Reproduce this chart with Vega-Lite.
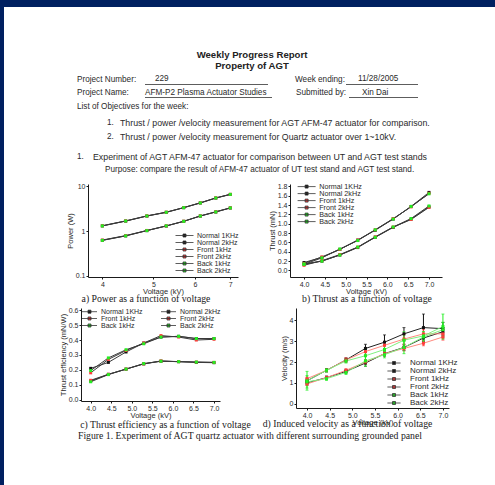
{
  "$schema": "https://vega.github.io/schema/vega-lite/v6.json",
  "background": "white",
  "padding": 0,
  "spacing": 0,
  "resolve": {"scale": {"color": "independent"}, "legend": {"color": "independent"}},
  "config": {
    "view": {"stroke": null},
    "font": "Liberation Sans",
    "axis": {"domainColor": "#1a1a1a", "tickColor": "#1a1a1a", "labelColor": "#2a2a2a", "titleColor": "#2a2a2a", "labelFont": "Liberation Sans", "titleFont": "Liberation Sans", "labelFontSize": 7, "titleFontSize": 7.5, "titleFontWeight": "normal", "tickSize": 2, "labelPadding": 1, "titlePadding": 1, "grid": false, "domainWidth": 1, "tickWidth": 1},
    "axisX": {"titlePadding": 0},
    "legend": {"labelFont": "Liberation Sans", "labelColor": "#2a2a2a", "padding": 0, "symbolSize": 36, "symbolStrokeColor": "#333", "symbolStrokeWidth": 0.8},
    "title": {"font": "Liberation Serif", "fontSize": 9.75, "fontWeight": "normal", "color": "#222", "orient": "bottom", "anchor": "middle", "offset": -1}
  },
  "hconcat": [
    {"width": 4, "height": 485, "view": {"fill": "#002060", "stroke": null}, "data": {"values": []}, "mark": "text", "encoding": {}},
    {
      "spacing": 0,
      "resolve": {"scale": {"color": "independent"}, "legend": {"color": "independent"}},
      "vconcat": [
        {"width": 491, "height": 7, "view": {"fill": "#002060", "stroke": null}, "data": {"values": []}, "mark": "text", "encoding": {}},
        {
          "width": 491, "height": 175,
          "data": {"values": [
            {"t": "h", "x": 252, "y": 55, "txt": "Weekly Progress Report"},
            {"t": "h", "x": 252, "y": 65.5, "txt": "Property of AGT"},
            {"t": "n", "x": 77, "y": 80, "txt": "Project Number:"},
            {"t": "n", "x": 155, "y": 79, "txt": "229"},
            {"t": "n", "x": 295, "y": 80, "txt": "Week ending:"},
            {"t": "n", "x": 358, "y": 79, "txt": "11/28/2005"},
            {"t": "n", "x": 77, "y": 93, "txt": "Project Name:"},
            {"t": "n", "x": 145, "y": 93, "txt": "AFM-P2 Plasma Actuator Studies"},
            {"t": "n", "x": 296, "y": 93, "txt": "Submitted by:"},
            {"t": "n", "x": 362, "y": 93, "txt": "Xin Dai"},
            {"t": "n", "x": 77, "y": 107, "txt": "List of Objectives for the week:"},
            {"t": "n", "x": 107, "y": 123, "txt": "1."},
            {"t": "w", "x": 120, "y": 123, "txt": "Thrust / power /velocity measurement for AGT AFM-47 actuator for comparison."},
            {"t": "n", "x": 107, "y": 137, "txt": "2."},
            {"t": "w", "x": 120, "y": 137, "txt": "Thrust / power /velocity measurement for Quartz actuator over 1~10kV."},
            {"t": "n", "x": 77, "y": 157, "txt": "1."},
            {"t": "w", "x": 93, "y": 157, "txt": "Experiment of AGT AFM-47 actuator for comparison between UT and AGT test stands"},
            {"t": "n", "x": 105, "y": 170, "txt": "Purpose: compare the result of AFM-47 actuator of UT test stand and AGT test stand."},
            {"t": "u", "x": 145, "x2": 268, "y": 84.5},
            {"t": "u", "x": 346, "x2": 418, "y": 84.5},
            {"t": "u", "x": 145, "x2": 272, "y": 97.5},
            {"t": "u", "x": 349, "x2": 418, "y": 97.5}
          ]},
          "encoding": {
            "x": {"field": "x", "type": "quantitative", "scale": {"domain": [4, 495], "nice": false, "zero": false}, "axis": null},
            "y": {"field": "y", "type": "quantitative", "scale": {"domain": [7, 182], "nice": false, "zero": false, "reverse": true}, "axis": null}
          },
          "layer": [
            {"transform": [{"filter": "datum.t == 'h'"}], "mark": {"type": "text", "align": "center", "baseline": "middle", "fontSize": 9.6, "fontWeight": "bold", "color": "#222"}, "encoding": {"text": {"field": "txt"}}},
            {"transform": [{"filter": "datum.t == 'n'"}], "mark": {"type": "text", "align": "left", "baseline": "middle", "fontSize": 8.2, "color": "#2a2a2a"}, "encoding": {"text": {"field": "txt"}}},
            {"transform": [{"filter": "datum.t == 'w'"}], "mark": {"type": "text", "align": "left", "baseline": "middle", "fontSize": 8.8, "color": "#2a2a2a"}, "encoding": {"text": {"field": "txt"}}},
            {"transform": [{"filter": "datum.t == 'u'"}], "mark": {"type": "rule", "color": "#333", "strokeWidth": 0.8}, "encoding": {"x2": {"field": "x2"}}}
          ]
        },
        {
          "spacing": 52,
          "bounds": "flush",
          "resolve": {"scale": {"color": "independent"}, "legend": {"color": "independent"}},
          "hconcat": [
            {"width": 32, "height": 122, "data": {"values": []}, "mark": "text", "encoding": {}},
            {
              "width": 150, "height": 93,
              "title": {"text": "a) Power as a function of voltage", "dx": -17},
              "data": {"values": [
                {"s": "Normal 1KHz", "v": 4.0, "y": 0.62}, {"s": "Normal 1KHz", "v": 4.43, "y": 0.78}, {"s": "Normal 1KHz", "v": 4.86, "y": 1.02}, {"s": "Normal 1KHz", "v": 5.29, "y": 1.29}, {"s": "Normal 1KHz", "v": 5.71, "y": 1.64}, {"s": "Normal 1KHz", "v": 6.14, "y": 2.15}, {"s": "Normal 1KHz", "v": 6.57, "y": 2.65}, {"s": "Normal 1KHz", "v": 7.0, "y": 3.25},
                {"s": "Normal 2kHz", "v": 4.0, "y": 1.3}, {"s": "Normal 2kHz", "v": 4.43, "y": 1.66}, {"s": "Normal 2kHz", "v": 4.86, "y": 2.15}, {"s": "Normal 2kHz", "v": 5.29, "y": 2.6}, {"s": "Normal 2kHz", "v": 5.71, "y": 3.3}, {"s": "Normal 2kHz", "v": 6.14, "y": 4.2}, {"s": "Normal 2kHz", "v": 6.57, "y": 5.4}, {"s": "Normal 2kHz", "v": 7.0, "y": 6.5},
                {"s": "Front 1kHz", "v": 4.0, "y": 0.63}, {"s": "Front 1kHz", "v": 4.43, "y": 0.79}, {"s": "Front 1kHz", "v": 4.86, "y": 1.03}, {"s": "Front 1kHz", "v": 5.29, "y": 1.3}, {"s": "Front 1kHz", "v": 5.71, "y": 1.65}, {"s": "Front 1kHz", "v": 6.14, "y": 2.17}, {"s": "Front 1kHz", "v": 6.57, "y": 2.68}, {"s": "Front 1kHz", "v": 7.0, "y": 3.28},
                {"s": "Front 2kHz", "v": 4.0, "y": 1.31}, {"s": "Front 2kHz", "v": 4.43, "y": 1.68}, {"s": "Front 2kHz", "v": 4.86, "y": 2.17}, {"s": "Front 2kHz", "v": 5.29, "y": 2.62}, {"s": "Front 2kHz", "v": 5.71, "y": 3.32}, {"s": "Front 2kHz", "v": 6.14, "y": 4.25}, {"s": "Front 2kHz", "v": 6.57, "y": 5.45}, {"s": "Front 2kHz", "v": 7.0, "y": 6.55},
                {"s": "Back 1kHz", "v": 4.0, "y": 0.62}, {"s": "Back 1kHz", "v": 4.43, "y": 0.78}, {"s": "Back 1kHz", "v": 4.86, "y": 1.02}, {"s": "Back 1kHz", "v": 5.29, "y": 1.3}, {"s": "Back 1kHz", "v": 5.71, "y": 1.64}, {"s": "Back 1kHz", "v": 6.14, "y": 2.16}, {"s": "Back 1kHz", "v": 6.57, "y": 2.66}, {"s": "Back 1kHz", "v": 7.0, "y": 3.26},
                {"s": "Back 2kHz", "v": 4.0, "y": 1.3}, {"s": "Back 2kHz", "v": 4.43, "y": 1.67}, {"s": "Back 2kHz", "v": 4.86, "y": 2.16}, {"s": "Back 2kHz", "v": 5.29, "y": 2.61}, {"s": "Back 2kHz", "v": 5.71, "y": 3.31}, {"s": "Back 2kHz", "v": 6.14, "y": 4.22}, {"s": "Back 2kHz", "v": 6.57, "y": 5.42}, {"s": "Back 2kHz", "v": 7.0, "y": 6.52}
              ]},
              "encoding": {
                "x": {"field": "v", "type": "quantitative", "scale": {"type": "log", "domain": [3.757, 7.24], "nice": false}, "axis": {"title": "Voltage (kV)", "values": [4, 5, 6, 7], "format": "d"}},
                "y": {"field": "y", "type": "quantitative", "scale": {"type": "log", "domain": [0.095, 11.1], "nice": false}, "axis": {"title": "Power (W)", "values": [0.1, 1, 10], "format": "~g"}}
              },
              "layer": [
                {"mark": {"type": "line", "color": "#3a3a3a", "strokeWidth": 1}, "encoding": {"detail": {"field": "s"}}},
                {"mark": {"type": "point", "shape": "square", "filled": true, "size": 9, "opacity": 1}, "encoding": {"color": {"field": "s", "type": "nominal", "scale": {"domain": ["Normal 1KHz", "Normal 2kHz", "Front 1kHz", "Front 2kHz", "Back 1kHz", "Back 2kHz"], "range": ["#111111", "#111111", "#ff3b3b", "#ff3b3b", "#22ee22", "#22ee22"]}, "legend": {"orient": "none", "legendX": 93, "legendY": 48, "title": null, "symbolType": "M-3,0H3M-0.5,-0.5H0.5V0.5H-0.5Z", "labelOffset": 9, "labelFontSize": 7, "rowPadding": -3}}}}
              ]
            },
            {
              "width": 152, "height": 93,
              "title": {"text": "b) Thrust as a function of voltage", "dx": 1},
              "data": {"values": [
                {"s": "Normal 1KHz", "v": 4.0, "y": 0.13}, {"s": "Normal 1KHz", "v": 4.43, "y": 0.2}, {"s": "Normal 1KHz", "v": 4.86, "y": 0.33}, {"s": "Normal 1KHz", "v": 5.29, "y": 0.49}, {"s": "Normal 1KHz", "v": 5.71, "y": 0.71}, {"s": "Normal 1KHz", "v": 6.14, "y": 0.92}, {"s": "Normal 1KHz", "v": 6.57, "y": 1.1}, {"s": "Normal 1KHz", "v": 7.0, "y": 1.36},
                {"s": "Normal 2kHz", "v": 4.0, "y": 0.17}, {"s": "Normal 2kHz", "v": 4.43, "y": 0.28}, {"s": "Normal 2kHz", "v": 4.86, "y": 0.45}, {"s": "Normal 2kHz", "v": 5.29, "y": 0.65}, {"s": "Normal 2kHz", "v": 5.71, "y": 0.86}, {"s": "Normal 2kHz", "v": 6.14, "y": 1.1}, {"s": "Normal 2kHz", "v": 6.57, "y": 1.37}, {"s": "Normal 2kHz", "v": 7.0, "y": 1.67},
                {"s": "Front 1kHz", "v": 4.0, "y": 0.11}, {"s": "Front 1kHz", "v": 4.43, "y": 0.21}, {"s": "Front 1kHz", "v": 4.86, "y": 0.34}, {"s": "Front 1kHz", "v": 5.29, "y": 0.5}, {"s": "Front 1kHz", "v": 5.71, "y": 0.72}, {"s": "Front 1kHz", "v": 6.14, "y": 0.93}, {"s": "Front 1kHz", "v": 6.57, "y": 1.09}, {"s": "Front 1kHz", "v": 7.0, "y": 1.35},
                {"s": "Front 2kHz", "v": 4.0, "y": 0.15}, {"s": "Front 2kHz", "v": 4.43, "y": 0.29}, {"s": "Front 2kHz", "v": 4.86, "y": 0.45}, {"s": "Front 2kHz", "v": 5.29, "y": 0.65}, {"s": "Front 2kHz", "v": 5.71, "y": 0.87}, {"s": "Front 2kHz", "v": 6.14, "y": 1.11}, {"s": "Front 2kHz", "v": 6.57, "y": 1.36}, {"s": "Front 2kHz", "v": 7.0, "y": 1.65},
                {"s": "Back 1kHz", "v": 4.0, "y": 0.14}, {"s": "Back 1kHz", "v": 4.43, "y": 0.2}, {"s": "Back 1kHz", "v": 4.86, "y": 0.33}, {"s": "Back 1kHz", "v": 5.29, "y": 0.5}, {"s": "Back 1kHz", "v": 5.71, "y": 0.71}, {"s": "Back 1kHz", "v": 6.14, "y": 0.93}, {"s": "Back 1kHz", "v": 6.57, "y": 1.11}, {"s": "Back 1kHz", "v": 7.0, "y": 1.38},
                {"s": "Back 2kHz", "v": 4.0, "y": 0.13}, {"s": "Back 2kHz", "v": 4.43, "y": 0.27}, {"s": "Back 2kHz", "v": 4.86, "y": 0.46}, {"s": "Back 2kHz", "v": 5.29, "y": 0.64}, {"s": "Back 2kHz", "v": 5.71, "y": 0.87}, {"s": "Back 2kHz", "v": 6.14, "y": 1.1}, {"s": "Back 2kHz", "v": 6.57, "y": 1.37}, {"s": "Back 2kHz", "v": 7.0, "y": 1.64}
              ]},
              "encoding": {
                "x": {"field": "v", "type": "quantitative", "scale": {"domain": [3.664, 7.312], "nice": false, "zero": false}, "axis": {"title": "Voltage (kV)", "values": [4, 4.5, 5, 5.5, 6, 6.5, 7], "format": ".1f"}},
                "y": {"field": "y", "type": "quantitative", "scale": {"domain": [-0.14, 1.85], "nice": false, "zero": false}, "axis": {"title": "Thrust (mN)", "values": [0, 0.2, 0.4, 0.6, 0.8, 1.0, 1.2, 1.4, 1.6, 1.8], "format": ".1f"}}
              },
              "layer": [
                {"mark": {"type": "line", "color": "#3a3a3a", "strokeWidth": 1}, "encoding": {"detail": {"field": "s"}}},
                {"mark": {"type": "point", "shape": "square", "filled": true, "size": 9, "opacity": 1}, "encoding": {"color": {"field": "s", "type": "nominal", "scale": {"domain": ["Normal 1KHz", "Normal 2kHz", "Front 1kHz", "Front 2kHz", "Back 1kHz", "Back 2kHz"], "range": ["#111111", "#111111", "#ff3b3b", "#ff3b3b", "#22ee22", "#22ee22"]}, "legend": {"orient": "none", "legendX": 13, "legendY": -1, "title": null, "symbolType": "M-3,0H3M-0.5,-0.5H0.5V0.5H-0.5Z", "labelOffset": 9, "labelFontSize": 7.2, "rowPadding": -3}}}}
              ]
            }
          ]
        },
        {
          "spacing": 76,
          "bounds": "flush",
          "resolve": {"scale": {"color": "independent"}, "legend": {"color": "independent"}},
          "hconcat": [
            {"width": 1, "height": 121, "data": {"values": []}, "mark": "text", "encoding": {}},
            {
              "width": 139, "height": 93,
              "title": {"text": "c) Thrust efficiency as a function of voltage", "dx": 15, "offset": 1.5},
              "data": {"values": [
                {"s": "Normal 1KHz", "v": 4.0, "y": 0.21}, {"s": "Normal 1KHz", "v": 4.43, "y": 0.25}, {"s": "Normal 1KHz", "v": 4.86, "y": 0.32}, {"s": "Normal 1KHz", "v": 5.29, "y": 0.38}, {"s": "Normal 1KHz", "v": 5.71, "y": 0.42}, {"s": "Normal 1KHz", "v": 6.14, "y": 0.425}, {"s": "Normal 1KHz", "v": 6.57, "y": 0.41}, {"s": "Normal 1KHz", "v": 7.0, "y": 0.41},
                {"s": "Normal 2kHz", "v": 4.0, "y": 0.125}, {"s": "Normal 2kHz", "v": 4.43, "y": 0.17}, {"s": "Normal 2kHz", "v": 4.86, "y": 0.205}, {"s": "Normal 2kHz", "v": 5.29, "y": 0.24}, {"s": "Normal 2kHz", "v": 5.71, "y": 0.258}, {"s": "Normal 2kHz", "v": 6.14, "y": 0.255}, {"s": "Normal 2kHz", "v": 6.57, "y": 0.25}, {"s": "Normal 2kHz", "v": 7.0, "y": 0.248},
                {"s": "Front 1kHz", "v": 4.0, "y": 0.18}, {"s": "Front 1kHz", "v": 4.43, "y": 0.27}, {"s": "Front 1kHz", "v": 4.86, "y": 0.33}, {"s": "Front 1kHz", "v": 5.29, "y": 0.38}, {"s": "Front 1kHz", "v": 5.71, "y": 0.43}, {"s": "Front 1kHz", "v": 6.14, "y": 0.42}, {"s": "Front 1kHz", "v": 6.57, "y": 0.4}, {"s": "Front 1kHz", "v": 7.0, "y": 0.405},
                {"s": "Front 2kHz", "v": 4.0, "y": 0.13}, {"s": "Front 2kHz", "v": 4.43, "y": 0.17}, {"s": "Front 2kHz", "v": 4.86, "y": 0.205}, {"s": "Front 2kHz", "v": 5.29, "y": 0.24}, {"s": "Front 2kHz", "v": 5.71, "y": 0.26}, {"s": "Front 2kHz", "v": 6.14, "y": 0.255}, {"s": "Front 2kHz", "v": 6.57, "y": 0.252}, {"s": "Front 2kHz", "v": 7.0, "y": 0.25},
                {"s": "Back 1kHz", "v": 4.0, "y": 0.195}, {"s": "Back 1kHz", "v": 4.43, "y": 0.28}, {"s": "Back 1kHz", "v": 4.86, "y": 0.335}, {"s": "Back 1kHz", "v": 5.29, "y": 0.375}, {"s": "Back 1kHz", "v": 5.71, "y": 0.42}, {"s": "Back 1kHz", "v": 6.14, "y": 0.425}, {"s": "Back 1kHz", "v": 6.57, "y": 0.41}, {"s": "Back 1kHz", "v": 7.0, "y": 0.41},
                {"s": "Back 2kHz", "v": 4.0, "y": 0.12}, {"s": "Back 2kHz", "v": 4.43, "y": 0.168}, {"s": "Back 2kHz", "v": 4.86, "y": 0.205}, {"s": "Back 2kHz", "v": 5.29, "y": 0.242}, {"s": "Back 2kHz", "v": 5.71, "y": 0.258}, {"s": "Back 2kHz", "v": 6.14, "y": 0.255}, {"s": "Back 2kHz", "v": 6.57, "y": 0.252}, {"s": "Back 2kHz", "v": 7.0, "y": 0.25}
              ]},
              "encoding": {
                "x": {"field": "v", "type": "quantitative", "scale": {"domain": [3.764, 7.146], "nice": false, "zero": false}, "axis": {"title": "Voltage (kV)", "values": [4, 4.5, 5, 5.5, 6, 6.5, 7], "format": ".1f"}},
                "y": {"field": "y", "type": "quantitative", "scale": {"domain": [-0.009, 0.615], "nice": false, "zero": false}, "axis": {"title": "Thrust efficiency (mN/W)", "values": [0, 0.1, 0.2, 0.3, 0.4, 0.5, 0.6], "format": ".1f"}}
              },
              "layer": [
                {"mark": {"type": "line", "color": "#3a3a3a", "strokeWidth": 1}, "encoding": {"detail": {"field": "s"}}},
                {"mark": {"type": "point", "shape": "square", "filled": true, "size": 9, "opacity": 1}, "encoding": {"color": {"field": "s", "type": "nominal", "scale": {"domain": ["Normal 1KHz", "Normal 2kHz", "Front 1kHz", "Front 2kHz", "Back 1kHz", "Back 2kHz"], "range": ["#111111", "#111111", "#ff3b3b", "#ff3b3b", "#22ee22", "#22ee22"]}, "legend": {"orient": "none", "legendX": 5, "legendY": 0, "title": null, "direction": "horizontal", "columns": 2, "columnPadding": 16, "symbolType": "M-2.5,0H2.5M-0.5,-0.5H0.5V0.5H-0.5Z", "labelOffset": 8, "labelFontSize": 7, "rowPadding": -1}}}}
              ]
            },
            {
              "width": 153, "height": 100,
              "title": {"text": "d) Induced velocity as a function of voltage", "dx": -25, "offset": -7},
              "data": {"values": [
                {"s": "Normal 1KHz", "v": 4.0, "y": 1.0, "e": 0.1}, {"s": "Normal 1KHz", "v": 4.43, "y": 1.25, "e": 0.08}, {"s": "Normal 1KHz", "v": 4.86, "y": 1.55, "e": 0.08}, {"s": "Normal 1KHz", "v": 5.29, "y": 1.95, "e": 0.15}, {"s": "Normal 1KHz", "v": 5.71, "y": 2.4, "e": 0.12}, {"s": "Normal 1KHz", "v": 6.14, "y": 2.7, "e": 0.15}, {"s": "Normal 1KHz", "v": 6.57, "y": 3.15, "e": 0.15}, {"s": "Normal 1KHz", "v": 7.0, "y": 3.45, "e": 0.2},
                {"s": "Normal 2kHz", "v": 4.0, "y": 1.1, "e": 0.1}, {"s": "Normal 2kHz", "v": 4.43, "y": 1.6, "e": 0.08}, {"s": "Normal 2kHz", "v": 4.86, "y": 2.1, "e": 0.1}, {"s": "Normal 2kHz", "v": 5.29, "y": 2.65, "e": 0.2}, {"s": "Normal 2kHz", "v": 5.71, "y": 2.95, "e": 0.35}, {"s": "Normal 2kHz", "v": 6.14, "y": 3.35, "e": 0.3}, {"s": "Normal 2kHz", "v": 6.57, "y": 3.65, "e": 0.65}, {"s": "Normal 2kHz", "v": 7.0, "y": 3.6, "e": 0.3},
                {"s": "Front 1kHz", "v": 4.0, "y": 0.95, "e": 0.08}, {"s": "Front 1kHz", "v": 4.43, "y": 1.25, "e": 0.06}, {"s": "Front 1kHz", "v": 4.86, "y": 1.6, "e": 0.08}, {"s": "Front 1kHz", "v": 5.29, "y": 2.0, "e": 0.1}, {"s": "Front 1kHz", "v": 5.71, "y": 2.4, "e": 0.1}, {"s": "Front 1kHz", "v": 6.14, "y": 2.65, "e": 0.12}, {"s": "Front 1kHz", "v": 6.57, "y": 2.9, "e": 0.12}, {"s": "Front 1kHz", "v": 7.0, "y": 3.2, "e": 0.15},
                {"s": "Front 2kHz", "v": 4.0, "y": 1.2, "e": 0.08}, {"s": "Front 2kHz", "v": 4.43, "y": 1.6, "e": 0.06}, {"s": "Front 2kHz", "v": 4.86, "y": 2.1, "e": 0.1}, {"s": "Front 2kHz", "v": 5.29, "y": 2.5, "e": 0.15}, {"s": "Front 2kHz", "v": 5.71, "y": 2.8, "e": 0.15}, {"s": "Front 2kHz", "v": 6.14, "y": 3.1, "e": 0.25}, {"s": "Front 2kHz", "v": 6.57, "y": 3.35, "e": 0.2}, {"s": "Front 2kHz", "v": 7.0, "y": 3.35, "e": 0.2},
                {"s": "Back 1kHz", "v": 4.0, "y": 1.05, "e": 0.3}, {"s": "Back 1kHz", "v": 4.43, "y": 1.2, "e": 0.08}, {"s": "Back 1kHz", "v": 4.86, "y": 1.5, "e": 0.1}, {"s": "Back 1kHz", "v": 5.29, "y": 2.05, "e": 0.25}, {"s": "Back 1kHz", "v": 5.71, "y": 2.35, "e": 0.15}, {"s": "Back 1kHz", "v": 6.14, "y": 2.7, "e": 0.3}, {"s": "Back 1kHz", "v": 6.57, "y": 3.2, "e": 0.25}, {"s": "Back 1kHz", "v": 7.0, "y": 3.55, "e": 0.35},
                {"s": "Back 2kHz", "v": 4.0, "y": 1.1, "e": 0.45}, {"s": "Back 2kHz", "v": 4.43, "y": 1.6, "e": 0.08}, {"s": "Back 2kHz", "v": 4.86, "y": 2.05, "e": 0.1}, {"s": "Back 2kHz", "v": 5.29, "y": 2.3, "e": 0.3}, {"s": "Back 2kHz", "v": 5.71, "y": 2.6, "e": 0.2}, {"s": "Back 2kHz", "v": 6.14, "y": 3.05, "e": 0.4}, {"s": "Back 2kHz", "v": 6.57, "y": 3.25, "e": 0.2}, {"s": "Back 2kHz", "v": 7.0, "y": 3.7, "e": 0.6}
              ]},
              "encoding": {
                "x": {"field": "v", "type": "quantitative", "scale": {"domain": [3.757, 7.134], "nice": false, "zero": false}, "axis": {"title": "Voltage (kV)", "values": [4, 4.5, 5, 5.5, 6, 6.5, 7], "format": ".1f"}},
                "y": {"field": "y", "type": "quantitative", "scale": {"domain": [-0.206, 4.59], "nice": false, "zero": false}, "axis": {"title": "Velocity (m/s)", "values": [0, 1, 2, 3, 4], "format": "d"}}
              },
              "layer": [
                {"transform": [{"filter": "indexof(datum.s, 'Normal') == 0"}], "mark": {"type": "line", "strokeWidth": 1, "color": "#222222"}, "encoding": {"detail": {"field": "s"}}},
                {"transform": [{"filter": "indexof(datum.s, 'Front') == 0"}], "mark": {"type": "line", "strokeWidth": 1, "color": "#ff8a80"}, "encoding": {"detail": {"field": "s"}}},
                {"transform": [{"filter": "indexof(datum.s, 'Back') == 0"}], "mark": {"type": "line", "strokeWidth": 1, "color": "#80f080"}, "encoding": {"detail": {"field": "s"}}},
                {"transform": [{"filter": "indexof(datum.s, 'Normal') == 0"}], "mark": {"type": "errorbar", "color": "#111111", "ticks": {"size": 3}}, "encoding": {"yError": {"field": "e"}}},
                {"transform": [{"filter": "indexof(datum.s, 'Front') == 0"}], "mark": {"type": "errorbar", "color": "#ff3b3b", "ticks": {"size": 3}}, "encoding": {"yError": {"field": "e"}}},
                {"transform": [{"filter": "indexof(datum.s, 'Back') == 0"}], "mark": {"type": "errorbar", "color": "#22ee22", "ticks": {"size": 3}}, "encoding": {"yError": {"field": "e"}}},
                {"mark": {"type": "point", "shape": "square", "filled": true, "size": 9, "opacity": 1}, "encoding": {"color": {"field": "s", "type": "nominal", "scale": {"domain": ["Normal 1KHz", "Normal 2kHz", "Front 1kHz", "Front 2kHz", "Back 1kHz", "Back 2kHz"], "range": ["#111111", "#111111", "#ff3b3b", "#ff3b3b", "#22ee22", "#22ee22"]}, "legend": {"orient": "none", "legendX": 94, "legendY": 51, "title": null, "symbolType": "M-2.2,0H2.2M-0.5,-0.5H0.5V0.5H-0.5Z", "labelOffset": 12, "labelFontSize": 8, "rowPadding": -1.5}}}}
              ]
            }
          ]
        },
        {
          "width": 491, "height": 20,
          "data": {"values": [{"x": 250, "y": 433.5, "txt": "Figure 1. Experiment of AGT quartz actuator with different surrounding grounded panel"}]},
          "mark": {"type": "text", "align": "center", "baseline": "middle", "font": "Liberation Serif", "fontSize": 9.75, "color": "#222"},
          "encoding": {
            "x": {"field": "x", "type": "quantitative", "scale": {"domain": [4, 495], "nice": false, "zero": false}, "axis": null},
            "y": {"field": "y", "type": "quantitative", "scale": {"domain": [431, 451], "nice": false, "zero": false, "reverse": true}, "axis": null},
            "text": {"field": "txt"}
          }
        }
      ]
    }
  ]
}
